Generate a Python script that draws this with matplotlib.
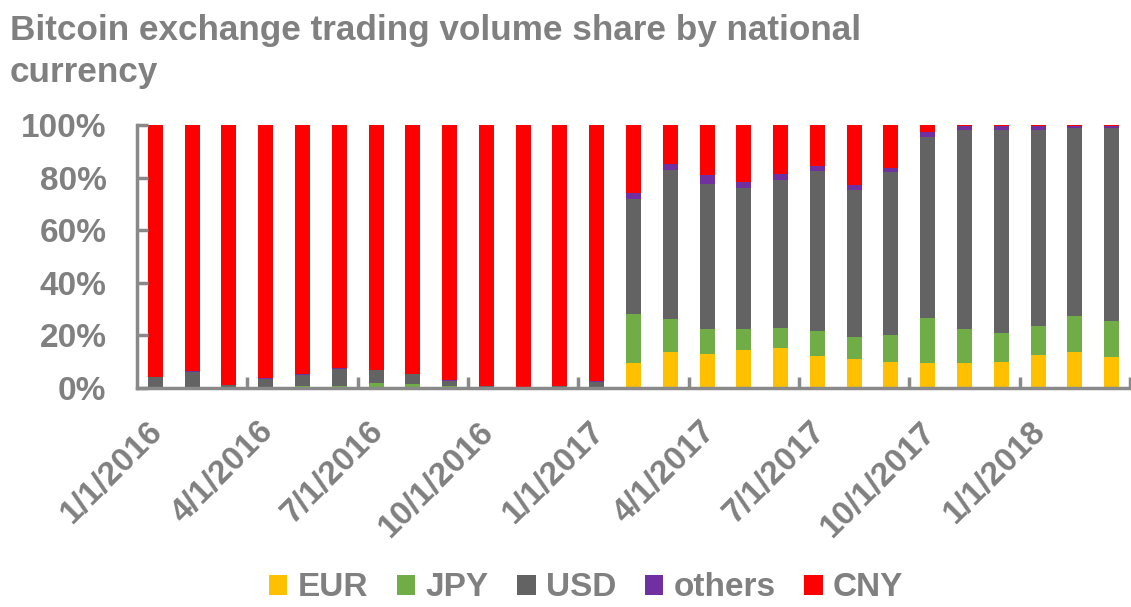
import matplotlib
matplotlib.use("Agg")
import matplotlib.pyplot as plt
import matplotlib.transforms as mtrans
import numpy as np

plt.rcParams['font.family'] = ['Liberation Sans', 'DejaVu Sans']

months = ["2016-01", "2016-02", "2016-03", "2016-04", "2016-05", "2016-06", "2016-07", "2016-08", "2016-09",
          "2016-10", "2016-11", "2016-12", "2017-01", "2017-02", "2017-03", "2017-04", "2017-05", "2017-06",
          "2017-07", "2017-08", "2017-09", "2017-10", "2017-11", "2017-12", "2018-01", "2018-02", "2018-03"]
tick_labels = ["1/1/2016", "4/1/2016", "7/1/2016", "10/1/2016", "1/1/2017",
               "4/1/2017", "7/1/2017", "10/1/2017", "1/1/2018"]

EUR = [0, 0, 0, 0, 0, 0, 0, 0, 0, 0, 0, 0, 0,
       9.4, 13.5, 13.1, 14.6, 15.2, 12.3, 10.9, 9.8, 9.4, 9.4, 9.8, 12.7, 13.5, 11.9]
JPY = [0, 0, 0, 0.5, 0.8, 0.8, 1.8, 1.4, 0.8, 0, 0, 0, 0.5,
       18.7, 12.7, 9.5, 8.0, 7.6, 9.5, 8.6, 10.5, 17.2, 13.2, 11.3, 10.9, 13.7, 13.5]
USD = [4.0, 6.2, 1.0, 2.9, 4.2, 6.5, 4.9, 3.8, 1.8, 0.6, 0.3, 0.7, 1.9,
       43.7, 56.7, 55.1, 53.6, 56.4, 60.6, 55.7, 61.8, 69.0, 75.6, 77.1, 74.6, 71.5, 73.3]
OTHERS = [0.3, 0.3, 0.1, 0.3, 0.3, 0.3, 0.3, 0.3, 0.4, 0.1, 0.1, 0.1, 0.2,
          2.3, 2.3, 3.2, 2.3, 2.0, 1.9, 1.8, 1.5, 1.9, 1.5, 1.5, 1.5, 1.0, 1.0]
CNY = [95.7, 93.5, 98.9, 96.3, 94.7, 92.4, 93.0, 94.5, 97.0, 99.3, 99.6, 99.2, 97.4,
       25.9, 14.8, 19.1, 21.5, 18.8, 15.7, 23.0, 16.4, 2.5, 0.3, 0.3, 0.3, 0.3, 0.3]

series = [("EUR", EUR, "#FFC000"), ("JPY", JPY, "#70AD47"), ("USD", USD, "#636363"),
          ("others", OTHERS, "#7030A0"), ("CNY", CNY, "#FF0000")]

GRAY = "#808080"
AXC = "#898989"

fig = plt.figure(figsize=(11.31, 6.07), dpi=100)
W, H = 1131, 607
ax = fig.add_axes([137 / W, 1 - 388 / H, (1130 - 137) / W, (388 - 125) / H])

x = np.arange(len(months))
bottom = np.zeros(len(months))
handles = []
for name, vals, col in series:
    v = np.array(vals) / 100.0
    b = ax.bar(x, v, width=0.41, bottom=bottom, color=col, label=name, linewidth=0)
    handles.append(b)
    bottom += v

ax.set_xlim(-0.5, len(months) - 0.5)
ax.set_ylim(0, 1)
yt = np.arange(0, 1.01, 0.2)
ax.set_yticks(yt)
ax.set_yticklabels([f"{int(round(t*100))}%" for t in yt])

ax.set_xticks(x[::3])
ax.set_xticklabels(tick_labels, rotation=45, ha='right', va='center', rotation_mode='anchor')
ax.set_xticks(np.arange(2.5, len(months), 3), minor=True)

for s in ['top', 'right']:
    ax.spines[s].set_visible(False)
for s in ['left', 'bottom']:
    ax.spines[s].set_color(AXC)
    ax.spines[s].set_linewidth(2.5)

ax.tick_params(axis='y', direction='in', length=8, width=2.5, color=AXC,
               labelsize=24, labelcolor=GRAY, pad=22)
ax.tick_params(axis='x', which='major', length=0, labelsize=24, labelcolor=GRAY, pad=28)
ax.tick_params(axis='x', which='minor', direction='in', length=8, width=2.5, color=AXC)
for lab in ax.get_yticklabels() + ax.get_xticklabels():
    lab.set_fontweight('bold')
offset = mtrans.ScaledTranslation(3 / 100, 0, fig.dpi_scale_trans)
for lab in ax.get_xticklabels():
    lab.set_transform(lab.get_transform() + offset)

fig.text(10 / W, 1 - 40 / H, "Bitcoin exchange trading volume share by national",
         fontsize=25.3, fontweight='bold', color=GRAY, ha='left', va='baseline')
fig.text(10 / W, 1 - 82 / H, "currency",
         fontsize=25.3, fontweight='bold', color=GRAY, ha='left', va='baseline')

leg = fig.legend(handles=handles, labels=[s[0] for s in series], loc='center',
                 bbox_to_anchor=(586 / W, 1 - 588 / H), ncol=5, frameon=False,
                 handlelength=0.55, handleheight=0.55, handletextpad=0.3, columnspacing=0.87,
                 prop={'size': 24, 'weight': 'bold'})
for t in leg.get_texts():
    t.set_color(GRAY)

fig.savefig("out.png", dpi=100)
